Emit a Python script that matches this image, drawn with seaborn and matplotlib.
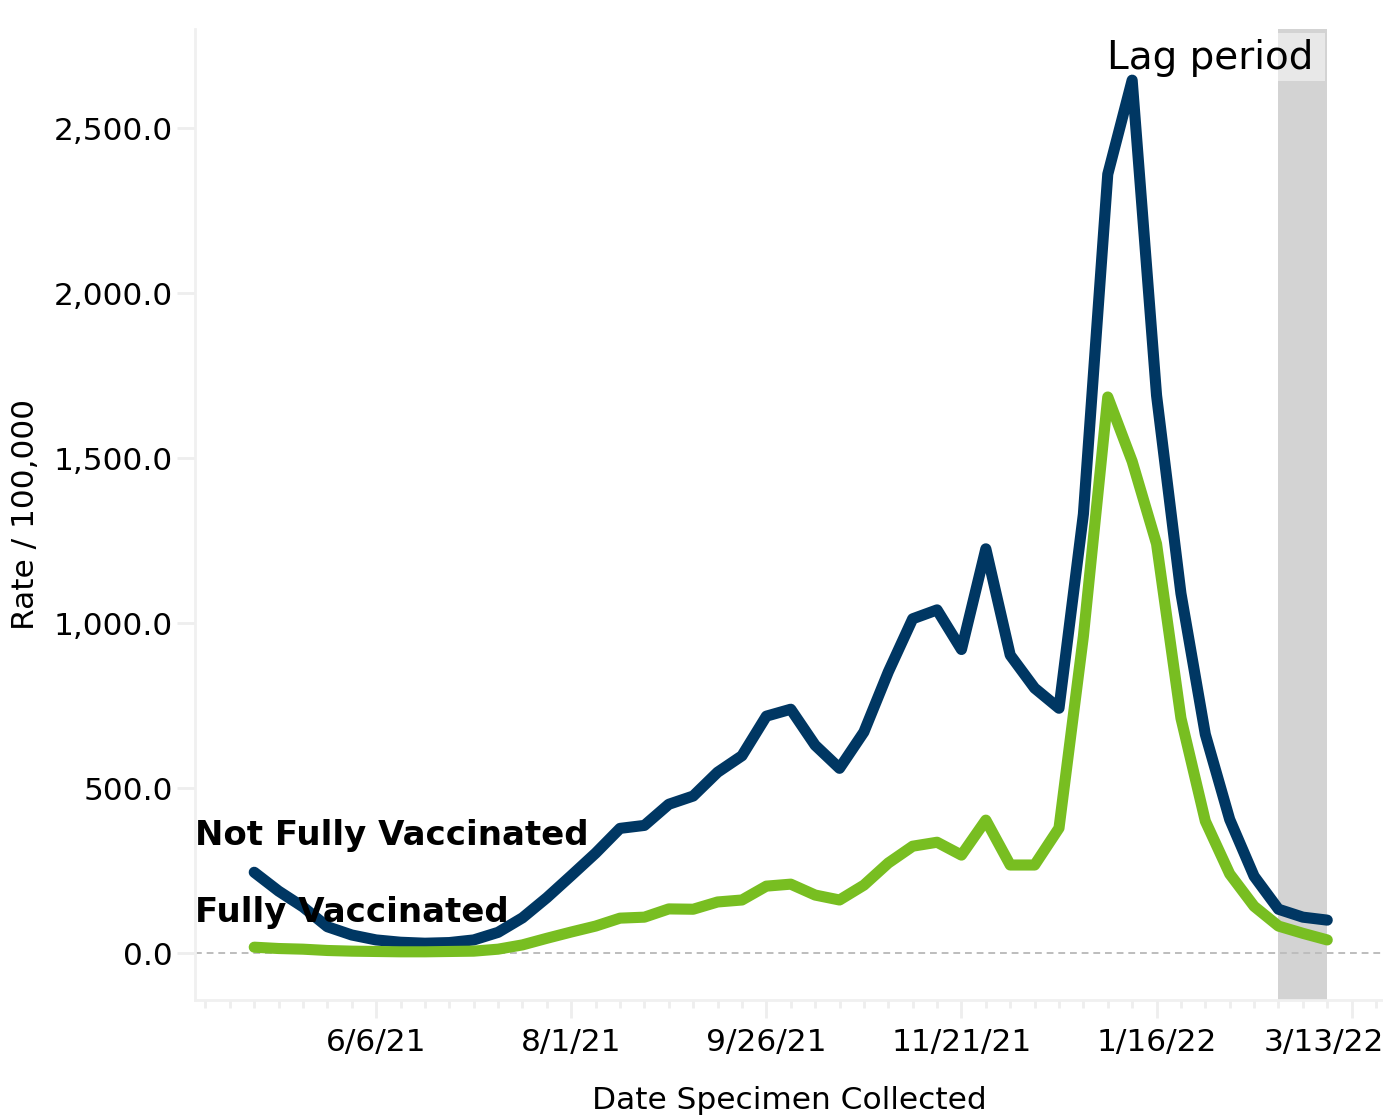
import numpy as np
import pandas as pd
import matplotlib
matplotlib.use("Agg")
import matplotlib.pyplot as plt
import matplotlib.dates as mdates
import matplotlib.patches as mpatches
import matplotlib.transforms as mtransforms
import seaborn as sns

# ---- data ----
first_week = "2021-05-02"
n_weeks = 45
not_fully = [245, 188, 140, 80, 55, 40, 33, 30, 32, 40,
             63, 107, 168, 235, 303, 378, 387, 451, 476, 548,
             598, 718, 739, 630, 560, 670, 852, 1013, 1040, 920,
             1225, 903, 803, 742, 1330, 2360, 2645, 1690, 1090, 663,
             405, 233, 133, 109, 100]
fully = [18, 14, 12, 8, 6, 5, 4, 4, 5, 6,
         12, 25, 45, 64, 82, 106, 109, 134, 133, 155,
         161, 203, 209, 176, 161, 206, 273, 324, 336, 297,
         403, 267, 267, 379, 960, 1685, 1490, 1240, 712, 400,
         240, 142, 82, 60, 40]
series_names = ["Not Fully Vaccinated", "Fully Vaccinated"]
series_colors = ["#003763", "#78be21"]
tick_dates = ["2021-06-06", "2021-08-01", "2021-09-26", "2021-11-21", "2022-01-16", "2022-03-13"]
tick_labels = ["6/6/21", "8/1/21", "9/26/21", "11/21/21", "1/16/22", "3/13/22"]
y_ticks = [0, 500, 1000, 1500, 2000, 2500]
lag_start, lag_end = "2022-02-20", "2022-03-06"

dates = pd.date_range(first_week, periods=n_weeks, freq="7D")
df = pd.DataFrame({
    "date": np.concatenate([dates, dates]),
    "rate": not_fully + fully,
    "status": [series_names[0]] * n_weeks + [series_names[1]] * n_weeks,
})

sns.set_theme(style="white")
plt.rcParams["font.family"] = ["DejaVu Sans"]

fig = plt.figure(figsize=(13.83, 11.19), dpi=100)
ax = fig.add_axes([195 / 1383, 1 - 1000 / 1119, 1 - 195 / 1383, (1000 - 29) / 1119])

# lag period band
ax.axvspan(pd.Timestamp(lag_start), pd.Timestamp(lag_end), color="#d3d3d3", lw=0, zorder=0)
ax.add_patch(mpatches.Rectangle((mdates.date2num(pd.Timestamp(lag_start)), 0.946),
                                mdates.date2num(pd.Timestamp(lag_end)) - mdates.date2num(pd.Timestamp(lag_start)) - 0.6,
                                0.050, transform=ax.get_xaxis_transform(),
                                facecolor="#e8e8e8", lw=0, zorder=0.5))

ax.axhline(0, color="#bdbdbd", lw=1.4, ls=(0, (3.5, 2.5)), zorder=1)

sns.lineplot(data=df, x="date", y="rate", hue="status", palette=series_colors,
             hue_order=series_names, linewidth=8, legend=False, ax=ax, zorder=3)
for ln in ax.get_lines()[1:]:
    ln.set_solid_capstyle("round")
    ln.set_solid_joinstyle("round")

ax.set_xlim(pd.Timestamp("2021-04-15"), pd.Timestamp("2022-03-22"))
ax.set_ylim(-142, 2800)

ax.set_xticks([pd.Timestamp(d) for d in tick_dates])
ax.set_xticklabels(tick_labels)
ax.xaxis.set_minor_locator(mdates.WeekdayLocator(byweekday=mdates.SU))
ax.set_yticks(y_ticks)
ax.set_yticklabels([f"{v:,.1f}" for v in y_ticks])

ax.tick_params(axis="x", which="major", length=13, width=2, color="#eeeeee",
               labelsize=22.5, pad=7, labelcolor="black", bottom=True)
ax.tick_params(axis="x", which="minor", length=6, width=2, color="#eeeeee", bottom=True)
ax.tick_params(axis="y", which="major", length=13, width=2, color="#eeeeee",
               labelsize=22.5, pad=3, labelcolor="black", left=True)

# keep the last date label inside the figure
last_lbl = ax.get_xticklabels()[-1]
last_lbl.set_transform(last_lbl.get_transform() +
                       mtransforms.ScaledTranslation(-0.28, 0, fig.dpi_scale_trans))

for side in ["top", "right"]:
    ax.spines[side].set_visible(False)
for side in ["left", "bottom"]:
    ax.spines[side].set_color("#f0f0f0")
    ax.spines[side].set_linewidth(2)

ax.set_xlabel("Date Specimen Collected", fontsize=22.5, labelpad=21, color="black")
ax.set_ylabel("Rate / 100,000", fontsize=22.5, labelpad=10, color="black")

trans = ax.get_yaxis_transform()
ax.text(0.0, 327, series_names[0], transform=trans, fontsize=24.5, fontweight="bold",
        ha="left", va="baseline", color="black", zorder=4)
ax.text(0.0, 94, series_names[1], transform=trans, fontsize=24.5, fontweight="bold",
        ha="left", va="baseline", color="black", zorder=4)

ax.annotate("Lag period", xy=(pd.Timestamp(lag_end), 2680), xytext=(-10, 0),
            textcoords="offset points", ha="right", va="baseline", fontsize=28,
            color="black", zorder=4)

fig.savefig("out.png", dpi=100)
